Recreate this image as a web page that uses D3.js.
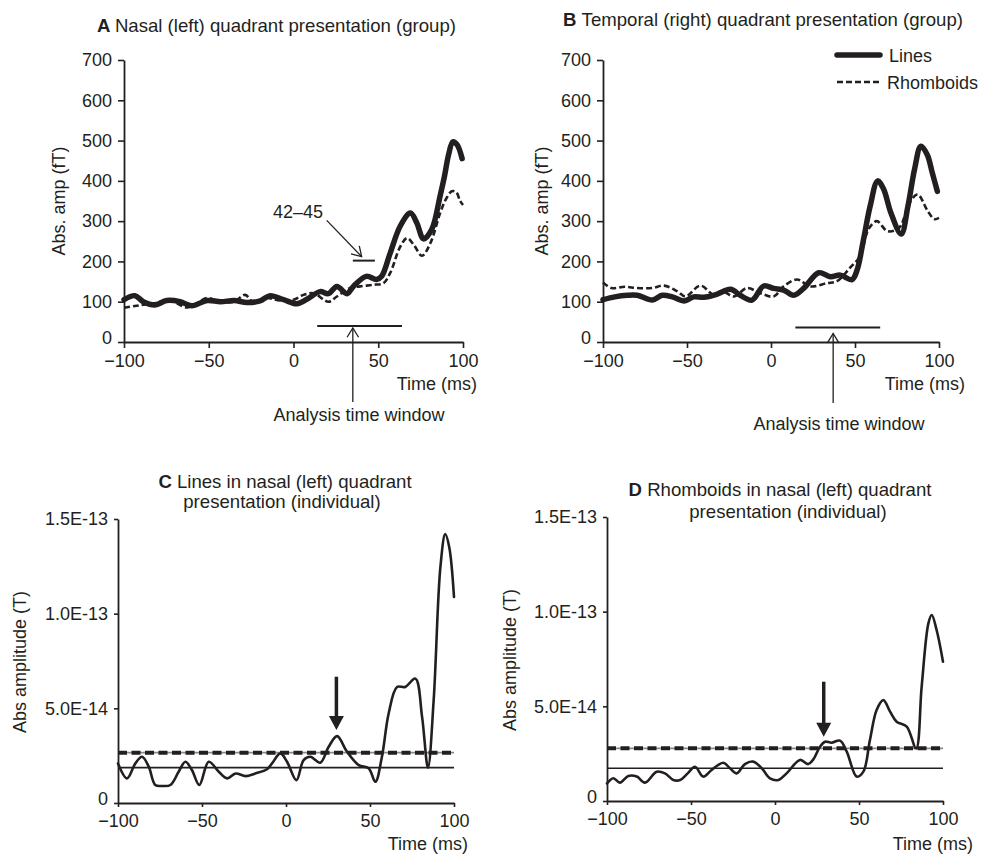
<!DOCTYPE html>
<html>
<head>
<meta charset="utf-8">
<script src="https://cdn.jsdelivr.net/npm/d3@7"></script>
<style>
body { margin: 0; background: #fff; }
svg text { font-family: "Liberation Sans", Arial, sans-serif; fill: #231f20; }
</style>
</head>
<body>
<div id="chart"></div>
<script>
//Datos
const timeTicks = [-100, -50, 0, 50, 100];
const groupTicks = [0, 100, 200, 300, 400, 500, 600, 700];
const indivTicks = [0, 5, 10, 15]; // unidades de 1E-14 T

// A - nasal (grupo)
const timeA_lines = [-100,-93.5,-88.6,-81.7,-74.8,-66.9,-60,-51,-43,-35,-27.5,-19.7,-13.8,-5.9,2,7.9,15.7,20.6,25.6,31.5,35.3,43,49,52,57,63,69,72.7,76.7,81.6,86.5,89,91.5,94,96.5,99.5];
const ampA_lines  = [105,115,100,92,103,100,90,103,100,103,98,102,115,105,95,106,125,120,138,120,138,163,155,163,220,288,320,296,256,280,363,410,465,497,490,455];
const timeA_rhomb = [-100,-92.5,-82.7,-72.9,-63,-57,-51,-43,-35,-28.5,-23.6,-15.7,-7.9,0,5.9,11.8,20.6,25.6,33.4,39.3,47,53,57,63,67,71,75.8,80.7,86.5,90,93.4,96,98.3,100];
const ampA_rhomb  = [85,90,96,103,86,96,109,100,100,117,98,109,103,105,117,121,100,113,134,138,142,146,171,237,258,241,214,245,320,355,374,372,350,340];

// B - temporal (grupo)
const timeB_lines = [-100,-93,-85.5,-79.6,-70.6,-64.7,-58.7,-51.7,-46,-40,-32,-24,-18.3,-11.3,-4.4,1.6,7.5,13.5,19.4,28.4,35.3,41.3,48.2,51.2,55,59,63.5,67,71.4,77.5,81.5,85.5,89.2,93,96,99];
const ampB_lines  = [105,112,116,116,104,116,112,102,112,111,119,131,116,104,139,133,129,116,133,172,162,166,155,178,253,337,400,380,320,268,337,430,486,465,420,374];
const timeB_rhomb = [-100,-95,-87,-79.6,-70.6,-63.7,-55.8,-50.8,-42,-34,-29,-22,-14.3,-6.3,1.6,7.5,15.5,23.4,33.3,39.3,47,53,58,63,69.4,76.4,82.3,87.3,93.3,97.2,100];
const ampB_rhomb  = [148,134,137,134,134,140,126,113,140,117,126,113,134,121,113,138,155,138,146,151,184,213,280,300,275,284,345,366,325,305,308];

// C - lineas (individual), 1E-14 T
const timeC = [-100,-94.6,-89.7,-85.7,-81.7,-77.8,-73.8,-68.8,-63.9,-59.9,-56,-51.6,-46,-40,-35,-30,-24,-18.3,-11.3,-8.3,-3.4,0.6,6.2,10.5,14.5,20.4,25.4,30.4,36.3,43.3,49.2,53.2,57.1,61.1,66.1,71,77,81,84.5,87.9,91.9,94.8,97.2,100];
const ampC  = [2.09,1.30,2.09,2.44,1.92,0.95,0.90,0.95,1.65,2.18,1.74,0.95,2.18,1.65,1.30,1.56,1.42,1.56,1.78,2.09,2.62,2.18,1.21,2.27,2.44,2.13,2.97,3.53,2.71,2.0,1.83,1.12,2.44,4.73,6.13,6.13,6.57,4.55,1.87,5.43,12.46,14.2,13.5,10.88];
const thresholdsC = [2.66, 1.87]; // discontinua, continua

// D - rombos (individual), 1E-14 T
const timeD = [-100,-96.2,-92.3,-87.3,-82.3,-77.4,-70.4,-65.5,-60.5,-56.5,-52,-47.6,-42.7,-37.7,-30.8,-26.8,-22.8,-17.9,-12.9,-7.9,-3,2,6.9,14.9,19.8,22.8,26.8,29.8,33.7,38.7,42.7,48.6,52.6,56.5,60.5,64.5,68.5,72.4,78.4,84,87.3,91.3,93.3,96.2,100];
const ampD  = [0.93,1.20,0.97,1.32,1.29,0.97,1.55,1.46,1.11,1.11,1.46,1.81,1.29,1.64,2.02,1.73,1.46,1.95,2.08,1.73,1.20,1.11,1.46,2.17,1.95,2.20,2.87,3.13,3.08,3.19,2.61,1.29,1.55,3.22,4.81,5.33,4.72,4.19,3.93,2.78,6.04,9.38,9.82,9.03,7.36];
const thresholdsD = [2.78, 1.73];

// Anotaciones (ms, valor)
const windowA = [14, 64], windowA_y = 40, windowA_arrow = 35;
const windowB = [14.5, 65], windowB_y = 36, windowB_arrow = 37;
const markA = [35, 48], markA_y = 202;
const peakArrowC = [30, 6.67, 3.86];
const peakArrowD = [29, 6.3, 3.39];

const INK = '#231f20';

let svg = d3.select('#chart')
    .append('svg')
        .attr('width', 981)
        .attr('height', 856);

function styleAxis(g) {
    g.select('.domain').attr('stroke', INK).attr('stroke-width', 1.8);
    g.selectAll('.tick line').attr('stroke', INK).attr('stroke-width', 1.6);
    g.selectAll('.tick text')
        .attr('fill', INK)
        .style('font-size', '18px')
        .style('font-family', '"Liberation Sans", Arial, sans-serif');
}

function drawAxes(x, y, yTicks, yFormat, tickLen) {
    svg.append('g')
        .attr('transform', 'translate(0,' + y.range()[0] + ')')
        .call(d3.axisBottom(x).tickValues(timeTicks).tickSize(tickLen).tickSizeOuter(0).tickPadding(tickLen == 6 ? 6 : 7))
        .call(styleAxis);
    svg.append('g')
        .attr('transform', 'translate(' + x.range()[0] + ',0)')
        .call(d3.axisLeft(y).tickValues(yTicks).tickFormat(yFormat).tickSize(tickLen).tickSizeOuter(0).tickPadding(6))
        .call(styleAxis)
        .selectAll('.tick text')
            .filter(d => d === 0)
            .attr('dy', '0.1em');
}

function label(x, y, txt, anchor, rotate) {
    svg.append('text')
        .attr('transform', 'translate(' + x + ',' + y + ')' + (rotate ? ' rotate(-90)' : ''))
        .attr('text-anchor', anchor)
        .style('font-size', '18px')
        .text(txt);
}

function title(x, y, letter, txt, anchor) {
    let t = svg.append('text')
        .attr('x', x).attr('y', y)
        .attr('text-anchor', anchor || 'start')
        .style('font-size', '18.6px');
    if (letter) t.append('tspan').style('font-weight', 'bold').text(letter + ' ');
    t.append('tspan').text(txt);
}

function curve(x, y, t, v, width, dash) {
    let line = d3.line()
        .x(d => x(d[0]))
        .y(d => y(d[1]))
        .curve(d3.curveCatmullRom.alpha(0.5));
    svg.append('path')
        .datum(d3.zip(t, v))
        .attr('fill', 'none')
        .attr('stroke', INK)
        .attr('stroke-width', width)
        .attr('stroke-linejoin', 'round')
        .attr('stroke-linecap', dash ? 'butt' : 'round')
        .attr('stroke-dasharray', dash || null)
        .attr('d', line);
}

// flecha abierta (punta en x2,y2)
function openArrow(x1, y1, x2, y2) {
    svg.append('line')
        .attr('x1', x1).attr('y1', y1).attr('x2', x2).attr('y2', y2)
        .attr('stroke', INK).attr('stroke-width', 1.3);
    let a = Math.atan2(y2 - y1, x2 - x1), L = 11, w = 0.55;
    svg.append('path')
        .attr('d', 'M' + (x2 - L * Math.cos(a - w)) + ',' + (y2 - L * Math.sin(a - w)) +
            'L' + x2 + ',' + y2 +
            'L' + (x2 - L * Math.cos(a + w)) + ',' + (y2 - L * Math.sin(a + w)))
        .attr('fill', 'none').attr('stroke', INK).attr('stroke-width', 1.3);
}

// flecha rellena hacia abajo
function solidArrow(x, yTop, yTip) {
    svg.append('line')
        .attr('x1', x).attr('x2', x).attr('y1', yTop).attr('y2', yTip - 10)
        .attr('stroke', INK).attr('stroke-width', 3.5);
    svg.append('path')
        .attr('d', 'M' + (x - 7.5) + ',' + (yTip - 14) + 'L' + (x + 7.5) + ',' + (yTip - 14) + 'L' + x + ',' + yTip + 'Z')
        .attr('fill', INK);
}

//////
///// Paneles de grupo (A y B)
//////
function groupPanel(left, right, t1, v1, t2, v2, win, winY) {
    let x = d3.scaleLinear().domain([-100, 100]).range([left, right]);
    let y = d3.scaleLinear().domain([0, 700]).range([342, 60]);

    curve(x, y, t2, v2, 2.6, '6,3');
    curve(x, y, t1, v1, 5.5, null);
    drawAxes(x, y, groupTicks, d3.format('d'), 6);

    // ventana de analisis
    svg.append('line')
        .attr('x1', x(win[0])).attr('x2', x(win[1]))
        .attr('y1', y(winY)).attr('y2', y(winY))
        .attr('stroke', INK).attr('stroke-width', 2);
    return { x: x, y: y };
}

let A = groupPanel(124, 463, timeA_lines, ampA_lines, timeA_rhomb, ampA_rhomb, windowA, windowA_y);
openArrow(A.x(windowA_arrow), 402, A.x(windowA_arrow), A.y(windowA_y) + 2);
label(359, 421, 'Analysis time window', 'middle');
// marca 42-45
svg.append('line')
    .attr('x1', A.x(markA[0])).attr('x2', A.x(markA[1]))
    .attr('y1', A.y(markA_y)).attr('y2', A.y(markA_y))
    .attr('stroke', INK).attr('stroke-width', 2);
openArrow(A.x(19.6), A.y(302), A.x(40.2), A.y(212));
label(A.x(-12.1), A.y(309), '42–45', 'start');
label(477, 390, 'Time (ms)', 'end');
label(65, 201, 'Abs. amp (fT)', 'middle', true);
title(97, 32, 'A', 'Nasal (left) quadrant presentation (group)');

let B = groupPanel(603, 939, timeB_lines, ampB_lines, timeB_rhomb, ampB_rhomb, windowB, windowB_y);
openArrow(B.x(windowB_arrow), 403, B.x(windowB_arrow), B.y(windowB_y) + 6);
label(839, 430, 'Analysis time window', 'middle');
label(965, 390, 'Time (ms)', 'end');
label(548, 201, 'Abs. amp (fT)', 'middle', true);
title(563, 26, 'B', 'Temporal (right) quadrant presentation (group)');

// leyenda
svg.append('line').attr('x1', 837).attr('x2', 880).attr('y1', 55).attr('y2', 55)
    .attr('stroke', INK).attr('stroke-width', 5.5).attr('stroke-linecap', 'round');
svg.append('line').attr('x1', 837).attr('x2', 880).attr('y1', 82).attr('y2', 82)
    .attr('stroke', INK).attr('stroke-width', 2.6).attr('stroke-dasharray', '6,3');
label(889, 62, 'Lines', 'start');
label(887, 89, 'Rhomboids', 'start');

//////
///// Paneles individuales (C y D)
//////
let fmtE = d => d === 0 ? '0' : (d * 1e-14).toExponential(1).toUpperCase();

function indivPanel(left, right, bottom, top, t, v, thr, arrow) {
    let x = d3.scaleLinear().domain([-100, 100]).range([left, right]);
    let y = d3.scaleLinear().domain([0, 15]).range([bottom, top]);

    // umbrales
    svg.append('line')
        .attr('x1', x(-100)).attr('x2', x(100)).attr('y1', y(thr[0])).attr('y2', y(thr[0]))
        .attr('stroke', '#8a8a8a').attr('stroke-width', 1.6);
    svg.append('line')
        .attr('x1', x(-100)).attr('x2', x(100)).attr('y1', y(thr[0])).attr('y2', y(thr[0]))
        .attr('stroke', INK).attr('stroke-width', 4).attr('stroke-dasharray', '9,4.5');
    svg.append('line')
        .attr('x1', x(-100)).attr('x2', x(100)).attr('y1', y(thr[1])).attr('y2', y(thr[1]))
        .attr('stroke', INK).attr('stroke-width', 1.6);

    curve(x, y, t, v, 2.6, null);
    drawAxes(x, y, indivTicks, fmtE, 4);
    solidArrow(x(arrow[0]), y(arrow[1]), y(arrow[2]));
    return { x: x, y: y };
}

indivPanel(118, 454, 803, 519, timeC, ampC, thresholdsC, peakArrowC);
label(468, 850, 'Time (ms)', 'end');
label(26, 662, 'Abs amplitude (T)', 'middle', true);
title(285, 488, 'C', 'Lines in nasal (left) quadrant', 'middle');
title(282, 508, null, 'presentation (individual)', 'middle');

indivPanel(607, 943, 801, 517, timeD, ampD, thresholdsD, peakArrowD);
label(973, 850, 'Time (ms)', 'end');
label(516, 660, 'Abs amplitude (T)', 'middle', true);
title(780, 496, 'D', 'Rhomboids in nasal (left) quadrant', 'middle');
title(788, 518, null, 'presentation (individual)', 'middle');
</script>
</body>
</html>
